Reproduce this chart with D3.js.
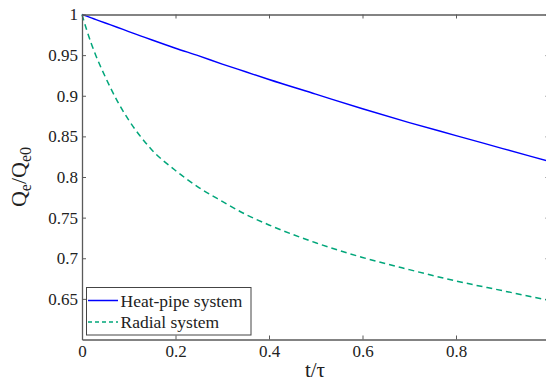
<!DOCTYPE html>
<html>
<head>
<meta charset="utf-8">
<script src="https://cdn.jsdelivr.net/npm/d3@7"></script>
<style>
  body { margin: 0; background: #fff; }
  svg { display: block; }
  svg text { font-family: "Liberation Serif", "Tinos", "Times New Roman", Times, "Nimbus Roman", "FreeSerif", "Noto Serif", "DejaVu Serif", serif; }
</style>
</head>
<body>
<div id="chart"></div>
<script>
// values
const tValues = [0, 0.01, 0.02, 0.03, 0.05, 0.075, 0.1, 0.125, 0.15, 0.2, 0.25, 0.3, 0.35, 0.4, 0.5, 0.6, 0.7, 0.8, 0.9, 1.0];
const heatPipe = [1.000, 0.9979, 0.9958, 0.9937, 0.9895, 0.9843, 0.979, 0.9738, 0.9686, 0.9585, 0.949, 0.939, 0.9295, 0.920, 0.902, 0.884, 0.867, 0.851, 0.835, 0.819];
const radial = [1.000, 0.981, 0.964, 0.949, 0.923, 0.894, 0.870, 0.850, 0.833, 0.808, 0.787, 0.770, 0.754, 0.741, 0.719, 0.701, 0.686, 0.672, 0.660, 0.648];
const seriesNames = ["Heat-pipe system", "Radial system"];
const xTicks = [0, 0.2, 0.4, 0.6, 0.8];
const yTicks = [0.65, 0.7, 0.75, 0.8, 0.85, 0.9, 0.95, 1];

const width = 546, height = 381;
const plotL = 82, plotR = 549.5, plotT = 14.5, plotB = 339.5;

const svg = d3.select("#chart").append("svg")
    .attr("width", width)
    .attr("height", height);

const x = d3.scaleLinear().domain([0, 1]).range([plotL, plotR]);
const y = d3.scaleLinear().domain([0.6, 1]).range([plotB, plotT]);

const axisColor = "#5a5a5a";
const textColor = "#222";

// lines first, box on top
const line = d3.line()
    .x((d, i) => x(tValues[i]))
    .y(d => y(d))
    .curve(d3.curveMonotoneX);

svg.append("path")
    .datum(heatPipe)
    .attr("d", line)
    .attr("fill", "none")
    .attr("stroke", "#0000ff")
    .attr("stroke-width", 1.4);

svg.append("path")
    .datum(radial)
    .attr("d", line)
    .attr("fill", "none")
    .attr("stroke", "#00a67a")
    .attr("stroke-width", 1.5)
    .attr("stroke-dasharray", "6,4");

// axes, ticks inward like matlab
function styleAxis(g) {
    g.attr("font-family", null);
    g.select(".domain").attr("stroke", axisColor).attr("stroke-width", 1.3);
    g.selectAll(".tick line").attr("stroke", axisColor);
    g.selectAll("text").attr("fill", textColor).attr("font-size", 17);
}

svg.append("g")
    .attr("transform", `translate(0,${plotB})`)
    .call(d3.axisBottom(x).tickValues(xTicks).tickSizeInner(-4).tickSizeOuter(0).tickPadding(5)
        .tickFormat(d3.format("")))
    .call(styleAxis);

svg.append("g")
    .attr("transform", `translate(${plotL},0)`)
    .call(d3.axisLeft(y).tickValues(yTicks).tickSizeInner(-4).tickSizeOuter(0).tickPadding(4)
        .tickFormat(d3.format("")))
    .call(styleAxis);

svg.append("g")
    .attr("transform", `translate(0,${plotT})`)
    .call(d3.axisTop(x).tickValues(xTicks).tickSizeInner(-4).tickSizeOuter(0).tickFormat(""))
    .call(styleAxis);

svg.append("g")
    .attr("transform", `translate(${plotR},0)`)
    .call(d3.axisRight(y).tickValues(yTicks).tickSizeInner(-4).tickSizeOuter(0).tickFormat(""))
    .call(styleAxis);

// axis titles
svg.append("text")
    .attr("x", (plotL + width) / 2 + 1)
    .attr("y", 377)
    .attr("text-anchor", "middle")
    .attr("font-size", 21)
    .attr("fill", textColor)
    .text("t/τ");

const yLabel = svg.append("text")
    .attr("transform", `translate(26,${(plotT + plotB) / 2}) rotate(-90)`)
    .attr("text-anchor", "middle")
    .attr("font-size", 22)
    .attr("fill", textColor);
yLabel.append("tspan").text("Q");
yLabel.append("tspan").attr("font-size", 16).attr("dy", 5).text("e");
yLabel.append("tspan").attr("dy", -5).text("/Q");
yLabel.append("tspan").attr("font-size", 16).attr("dy", 5).text("e0");

// legend
const legend = svg.append("g");
legend.append("rect")
    .attr("x", 86.5).attr("y", 287.5)
    .attr("width", 164.5).attr("height", 47.5)
    .attr("fill", "#fff")
    .attr("stroke", "#444")
    .attr("stroke-width", 1);

const legendStyles = [
    { color: "#0000ff", dash: null },
    { color: "#00a67a", dash: "4,3" }
];
seriesNames.forEach((name, i) => {
    const ly = 300.5 + i * 21.5;
    legend.append("line")
        .attr("x1", 88).attr("x2", 118)
        .attr("y1", ly).attr("y2", ly)
        .attr("stroke", legendStyles[i].color)
        .attr("stroke-width", 1.5)
        .attr("stroke-dasharray", legendStyles[i].dash);
    legend.append("text")
        .attr("x", 120.5)
        .attr("y", ly + 6)
        .attr("font-size", 17.5)
        .attr("fill", textColor)
        .text(name);
});
</script>
</body>
</html>
